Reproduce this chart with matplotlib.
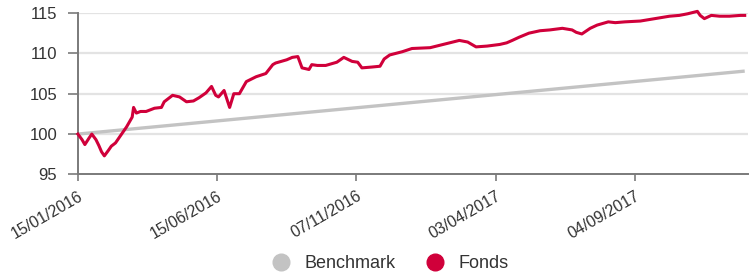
import numpy as np
import matplotlib
matplotlib.use('Agg')
import matplotlib.pyplot as plt
import matplotlib.transforms as mtransforms
from matplotlib.lines import Line2D

plt.rcParams['font.family'] = ['Liberation Sans', 'DejaVu Sans']

fonds_pts = [
    (0, 100.0), (3, 99.3), (5, 98.7), (8, 99.5), (10, 100.0), (13, 99.3),
    (15, 98.6), (17, 97.8), (19, 97.3), (22, 98.0), (24, 98.5), (27, 98.9),
    (31, 99.9), (35, 100.9), (39, 102.1), (40, 103.3), (42, 102.6), (45, 102.8),
    (49, 102.8), (55, 103.2), (60, 103.3), (62, 104.0), (68, 104.8), (73, 104.6),
    (78, 104.0), (83, 104.1), (87, 104.5), (92, 105.1), (96, 105.9), (99, 104.8),
    (101, 104.6), (105, 105.4), (109, 103.3), (112, 105.0), (116, 105.0),
    (121, 106.5), (128, 107.1), (135, 107.5), (140, 108.6), (142, 108.8),
    (150, 109.2), (154, 109.5), (158, 109.6), (161, 108.2), (166, 108.0),
    (168, 108.6), (172, 108.5), (178, 108.5), (186, 108.9), (191, 109.5),
    (197, 109.0), (201, 108.9), (204, 108.2), (211, 108.3), (217, 108.4),
    (220, 109.3), (224, 109.8), (233, 110.2), (240, 110.6), (253, 110.7),
    (260, 111.0), (267, 111.3), (274, 111.6), (280, 111.4), (286, 110.8),
    (294, 110.9), (303, 111.1), (308, 111.3), (312, 111.6), (317, 112.0),
    (324, 112.5), (332, 112.8), (339, 112.9), (348, 113.1), (355, 112.9),
    (358, 112.6), (362, 112.4), (368, 113.1), (373, 113.5), (381, 113.9),
    (386, 113.8), (393, 113.9), (404, 114.0), (411, 114.2), (418, 114.4),
    (425, 114.6), (432, 114.7), (438, 114.9), (445, 115.2), (447, 114.7),
    (450, 114.3), (455, 114.7), (461, 114.6), (468, 114.6), (476, 114.7),
    (479, 114.7),
]
fonds_obs = [p[0] for p in fonds_pts]
fonds = [p[1] for p in fonds_pts]

bench_obs = [0, 479]
bench = [100.0, 107.8]

tick_obs = [0, 100, 200, 300, 400]
tick_labels = ['15/01/2016', '15/06/2016', '07/11/2016', '03/04/2017', '04/09/2017']
y_ticks = [95, 100, 105, 110, 115]

red = '#d0003a'
grey = '#c3c3c3'
axcol = '#7a7a7a'
txt = '#333333'

fig = plt.figure(figsize=(7.49, 2.76), dpi=100)
ax = fig.add_axes([0.104, 0.368, 0.894, 0.585])

for y in y_ticks[1:]:
    ax.axhline(y, color='#e3e3e3', lw=1.6, zorder=0)

ax.plot(bench_obs, bench, color=grey, lw=2.4, zorder=2, solid_capstyle='butt')
ax.plot(fonds_obs, fonds, color=red, lw=2.2, zorder=3, clip_on=False)

ax.set_xlim(0, 481)
ax.set_ylim(95, 115)
ax.set_yticks(y_ticks)
ax.set_xticks(tick_obs)
ax.set_xticklabels(tick_labels, rotation=30, ha='right', rotation_mode='anchor')
shift = mtransforms.ScaledTranslation(4 / 100, 0, fig.dpi_scale_trans)
for lab in ax.get_xticklabels():
    lab.set_transform(lab.get_transform() + shift)

for s in ['top', 'right']:
    ax.spines[s].set_visible(False)
for s in ['left', 'bottom']:
    ax.spines[s].set_color(axcol)
    ax.spines[s].set_linewidth(1.4)
ax.tick_params(axis='y', length=7, width=1.2, color=axcol, pad=8, labelsize=12, labelcolor=txt)
ax.tick_params(axis='x', length=5, width=1.2, color=axcol, pad=5, labelsize=11.5, labelcolor=txt)

handles = [Line2D([], [], ls='', marker='o', ms=12, color=grey, label='Benchmark'),
           Line2D([], [], ls='', marker='o', ms=12, color=red, label='Fonds')]
fig.legend(handles=handles, loc='center', bbox_to_anchor=(0.515, 0.045), ncol=2,
           frameon=False, fontsize=13, handletextpad=0.3, columnspacing=1.2,
           labelcolor=txt)

fig.savefig('out.png', dpi=100)
